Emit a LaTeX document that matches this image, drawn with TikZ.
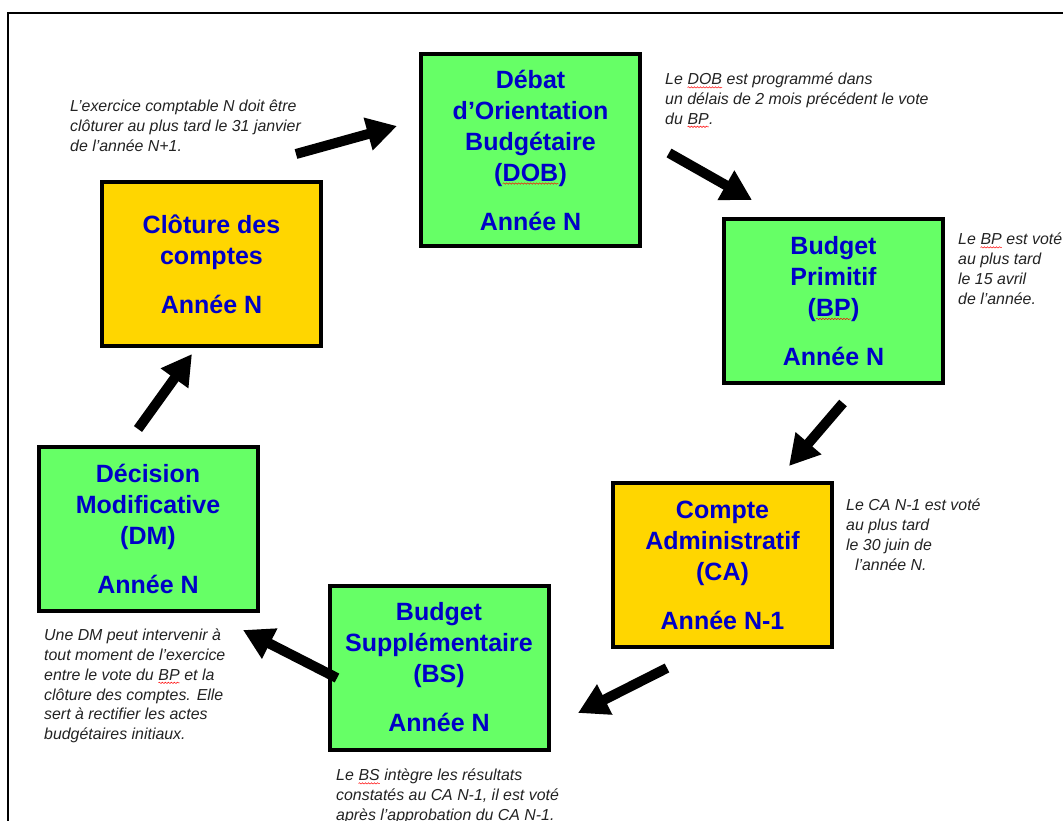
\documentclass[tikz,border=0pt]{standalone}
\usepackage{fontspec}
\setmainfont{Liberation Sans}
\usetikzlibrary{arrows.meta,decorations.pathmorphing}
\definecolor{boxgreen}{RGB}{102,255,102}
\definecolor{boxgold}{RGB}{255,214,0}
\definecolor{txtblue}{RGB}{0,0,200}
\definecolor{notegray}{RGB}{35,35,35}
\newcommand\rw[1]{\tikz[baseline=(t.base)]{\node[draw=none,fill=none,minimum width=0pt,minimum height=0pt,inner sep=0pt,outer sep=0pt,anchor=base](t){#1};\draw[red,line width=0.5pt,decorate,decoration={snake,amplitude=0.7pt,segment length=3pt}]([yshift=-2.5pt]t.base west)--([yshift=-2.5pt]t.base east);}}
\begin{document}
\begin{tikzpicture}[x=1pt,y=-1pt,
  stage/.style={draw=black,line width=4pt,minimum width=219pt,minimum height=164pt,inner sep=0pt,align=center,text=txtblue,font=\fontsize{25}{31}\selectfont\bfseries},
  gstage/.style={stage,fill=boxgreen},
  ystage/.style={stage,fill=boxgold},
  note/.style={anchor=north west,align=left,inner sep=0pt,text=notegray,font=\fontsize{15.9}{19.7}\selectfont\itshape},
  flow/.style={line width=10pt,-{Triangle[length=30pt,width=32pt]}}
]
\useasboundingbox (0,0) rectangle (1063,821);
\fill[white] (0,0) rectangle (1063,821);
\draw[line width=2pt] (8,830) -- (8,13) -- (1070,13);

% stages
\node[gstage,minimum height=192pt] (dob) at (530.5,150) {Débat\\d’Orientation\\Budgétaire\\(\rw{DOB})\\[18pt]Année N};
\node[ystage] (clo) at (211.5,264) {Clôture des\\comptes\\[18pt]Année N};
\node[gstage] (bp) at (833.5,301) {Budget\\Primitif\\(\rw{BP})\\[18pt]Année N};
\node[ystage] (ca) at (722.5,565) {Compte\\Administratif\\(CA)\\[18pt]Année N-1};
\node[gstage] (bs) at (439,667.5) {Budget\\Supplémentaire\\(BS)\\[18pt]Année N};
\node[gstage] (dm) at (148,529) {Décision\\Modificative\\(DM)\\[18pt]Année N};

% notes
\node[note] (n1) at (70,100) {L’exercice comptable N doit être\\clôturer au plus tard le 31 janvier\\de l’année N+1.};
\node[note] (n2) at (665,73) {Le \rw{DOB} est programmé dans\\un délais de 2 mois précédent le vote\\du \rw{BP}.};
\node[note] (n3) at (958,233) {Le \rw{BP} est voté\\au plus tard\\le 15 avril\\de l’année.};
\node[note] (n4) at (846,499) {Le CA N-1 est voté\\au plus tard\\le 30 juin de\\\ \ l’année N.};
\node[note] (n5) at (44,629) {Une DM peut intervenir à\\tout moment de l’exercice\\entre le vote du \rw{BP} et la\\clôture des comptes. Elle\\sert à rectifier les actes\\budgétaires initiaux.};
\node[note] (n6) at (336,769) {Le \rw{BS} intègre les résultats\\constatés au CA N-1, il est voté\\après l’approbation du CA N-1.};

% arrows
\coordinate (a1s) at (296,154); \coordinate (a1e) at (397,126);
\coordinate (a2s) at (669,153); \coordinate (a2e) at (752,200);
\coordinate (a3s) at (843,403); \coordinate (a3e) at (789,466);
\coordinate (a4s) at (667,668); \coordinate (a4e) at (578,713);
\coordinate (a5s) at (337,678); \coordinate (a5e) at (243,630);
\coordinate (a6s) at (138,429); \coordinate (a6e) at (192,354);
\draw[flow] (a1s) -- (a1e);
\draw[flow] (a2s) -- (a2e);
\draw[flow] (a3s) -- (a3e);
\draw[flow] (a4s) -- (a4e);
\draw[flow] (a5s) -- (a5e);
\draw[flow] (a6s) -- (a6e);
\end{tikzpicture}
\end{document}
